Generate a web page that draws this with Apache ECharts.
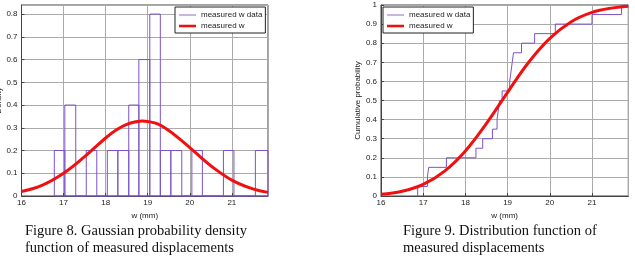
<!DOCTYPE html>
<html>
<head>
<meta charset="utf-8">
<script src="https://cdn.jsdelivr.net/npm/echarts@6/dist/echarts.min.js"></script>
<style>
  html, body { margin: 0; padding: 0; background: #fff; }
  #chart { width: 635px; height: 261px; }
</style>
</head>
<body>
<div id="chart"></div>
<script>
// histogram of measured w (density), bin edges
var binEdges = [16.78, 17.03, 17.29, 17.54, 17.79, 18.04, 18.29, 18.55, 18.79, 19.05, 19.30,
                19.55, 19.81, 20.05, 20.30, 20.56, 20.80, 21.05, 21.31, 21.56, 21.86];
var density = [0.2, 0.4, 0, 0.2, 0, 0.2, 0.2, 0.4, 0.6, 0.8, 0.2, 0.2, 0, 0.2, 0, 0, 0.2, 0, 0, 0.2];

// fitted gaussian pdf (red curve)
var pdfX = [16, 16.5, 17, 17.5, 18, 18.25, 18.5, 18.75, 18.87, 19, 19.25, 19.5, 19.75, 20, 20.25, 20.5, 21, 21.5, 21.86];
var pdfY = [0.02, 0.048, 0.10, 0.173, 0.255, 0.29, 0.315, 0.328, 0.33, 0.328, 0.316, 0.288, 0.252, 0.213, 0.172, 0.133, 0.07, 0.031, 0.016];

// empirical cdf (purple stairs)
var ecdfX = [16.87, 16.87, 17.10, 17.13, 17.55, 18.25, 18.41, 18.64, 18.75, 18.78, 18.81, 18.87,
             19.05, 19.08, 19.11, 19.14, 19.33, 19.64, 20.13, 21.00, 21.70, 21.86];
var ecdfY = [0, 0.05, 0.10, 0.15, 0.20, 0.25, 0.30, 0.35, 0.40, 0.45, 0.50, 0.55,
             0.60, 0.65, 0.70, 0.75, 0.80, 0.85, 0.90, 0.95, 1.00, 1.00];

// fitted normal cdf (red curve)
var cdfX = [16, 16.5, 17, 17.5, 18, 18.5, 19, 19.5, 20, 20.5, 21, 21.5, 21.86];
var cdfY = [0.009, 0.025, 0.061, 0.129, 0.236, 0.38, 0.543, 0.70, 0.825, 0.911, 0.961, 0.985, 0.993];

var purple = '#7b52c9';
var red = '#f01010';
var sans = 'Liberation Sans';

function pairs(xs, ys) {
  return xs.map(function (x, i) { return [x, ys[i]]; });
}

var histData = density.map(function (d, i) {
  return [binEdges[i], binEdges[i + 1], d];
});

function xAxisCfg(idx) {
  return {
    type: 'value', gridIndex: idx,
    min: 16, max: 21.86, interval: 1,
    name: 'w (mm)', nameLocation: 'middle', nameGap: 14,
    nameTextStyle: { fontFamily: sans, fontSize: 8, color: '#222' },
    axisLine: { show: true, onZero: false, lineStyle: { color: '#444' } },
    axisTick: { inside: true, length: 3, lineStyle: { color: '#444' } },
    axisLabel: { fontFamily: sans, fontSize: 8, color: '#222', margin: 3, showMaxLabel: false },
    splitLine: { show: true, lineStyle: { color: '#aaa' } }
  };
}

function yAxisCfg(idx, max, name, gap) {
  return {
    type: 'value', gridIndex: idx,
    min: 0, max: max, interval: 0.1,
    name: name, nameLocation: 'middle', nameGap: gap,
    nameTextStyle: { fontFamily: sans, fontSize: 8, color: '#222' },
    axisLine: { show: true, lineStyle: { color: '#444' } },
    axisTick: { inside: true, length: 3, lineStyle: { color: '#444' } },
    axisLabel: { fontFamily: sans, fontSize: 8, color: '#222', margin: 4, showMaxLabel: max === 1 },
    splitLine: { show: true, lineStyle: { color: '#aaa' } }
  };
}

function legendCfg(left) {
  return {
    left: left, top: 7, orient: 'vertical',
    backgroundColor: '#fff', borderColor: '#222', borderWidth: 1,
    padding: [3, 3, 2, 4], itemGap: 1,
    itemWidth: 17, itemHeight: 8, itemStyle: { borderWidth: 0 },
    textStyle: { fontFamily: sans, fontSize: 8, color: '#222', lineHeight: 10 },
    selectedMode: false,
    data: [
      { name: 'measured w data', icon: 'path://M0 0H20V1H0Z', itemStyle: { color: purple } },
      { name: 'measured w', icon: 'path://M0 0H20V3H0Z', itemStyle: { color: red } }
    ]
  };
}

var chart = echarts.init(document.getElementById('chart'));
var option = {
  backgroundColor: '#fff',
  animation: false,
  title: [
    {
      text: 'Figure 8. Gaussian probability density\nfunction of measured displacements',
      left: 25, top: 223, padding: 0,
      textStyle: { fontFamily: 'Liberation Serif', fontSize: 14.5, fontWeight: 'normal', color: '#111', lineHeight: 17 }
    },
    {
      text: 'Figure 9. Distribution function of\nmeasured displacements',
      left: 403, top: 223, padding: 0,
      textStyle: { fontFamily: 'Liberation Serif', fontSize: 14.5, fontWeight: 'normal', color: '#111', lineHeight: 17 }
    }
  ],
  legend: [legendCfg(175), legendCfg(383)],
  grid: [
    { left: 21.5, top: 5, width: 246.5, height: 191, outerBoundsMode: 'none', containLabel: false,
      show: true, borderColor: '#444', borderWidth: 1, backgroundColor: '#fff' },
    { left: 381, top: 5, width: 247.3, height: 191, outerBoundsMode: 'none', containLabel: false,
      show: true, borderColor: '#444', borderWidth: 1, backgroundColor: '#fff' }
  ],
  xAxis: [xAxisCfg(0), xAxisCfg(1)],
  yAxis: [yAxisCfg(0, 0.84, 'Density', 18), yAxisCfg(1, 1, 'Cumulative probability', 17)],
  series: [
    {
      name: 'measured w data', type: 'custom', xAxisIndex: 0, yAxisIndex: 0,
      itemStyle: { color: purple },
      encode: { x: [0, 1], y: 2 },
      data: histData,
      renderItem: function (params, api) {
        var p0 = api.coord([api.value(0), api.value(2)]);
        var p1 = api.coord([api.value(1), 0]);
        return {
          type: 'rect',
          shape: { x: p0[0], y: p0[1], width: p1[0] - p0[0], height: p1[1] - p0[1] },
          style: { fill: 'none', stroke: purple, lineWidth: 1 }
        };
      },
      z: 3
    },
    {
      name: 'measured w', type: 'line', xAxisIndex: 0, yAxisIndex: 0,
      data: pairs(pdfX, pdfY), smooth: 0.4, symbol: 'none',
      lineStyle: { color: red, width: 3 }, itemStyle: { color: red }, z: 4
    },
    {
      name: 'measured w data', type: 'line', xAxisIndex: 1, yAxisIndex: 1,
      data: pairs(ecdfX, ecdfY), step: 'end', symbol: 'none',
      lineStyle: { color: purple, width: 1 }, itemStyle: { color: purple }, z: 3
    },
    {
      name: 'measured w', type: 'line', xAxisIndex: 1, yAxisIndex: 1,
      data: pairs(cdfX, cdfY), smooth: 0.4, symbol: 'none',
      lineStyle: { color: red, width: 3 }, itemStyle: { color: red }, z: 4
    }
  ]
};
chart.setOption(option);
window.addEventListener('resize', function () {
  chart.resize();
});
</script>
</body>
</html>
